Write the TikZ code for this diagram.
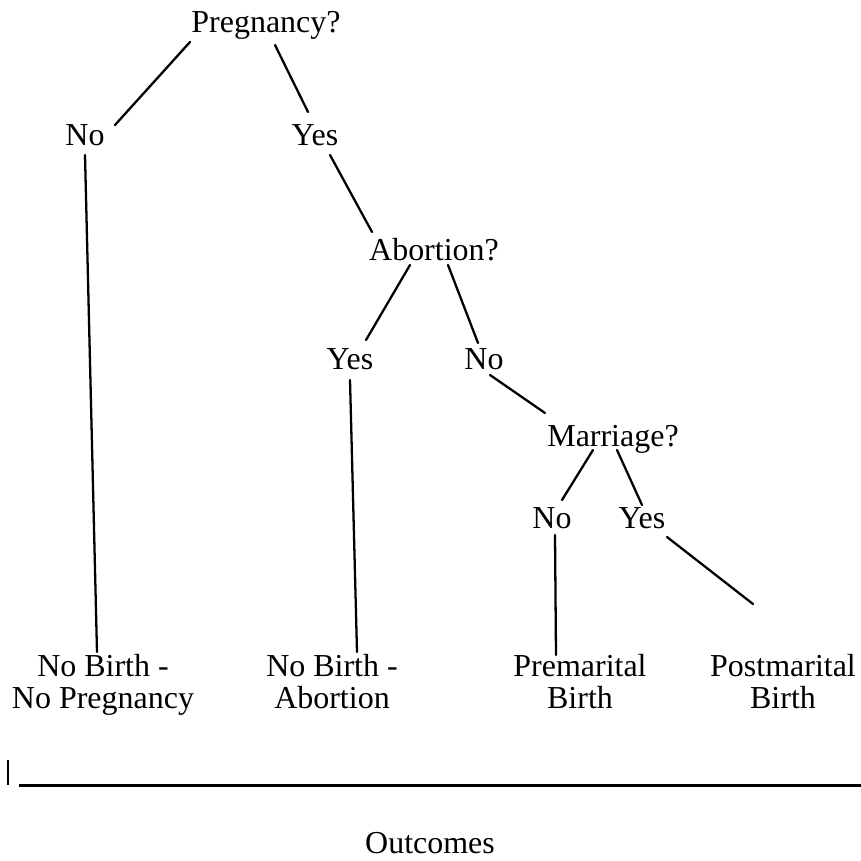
\documentclass[tikz,border=0pt]{standalone}
\usepackage{fontspec}
\setmainfont{Liberation Serif}
\usetikzlibrary{calc,positioning}
\tikzset{
  lbl/.style={inner sep=0pt,anchor=base,font=\fontsize{18.2}{18.5}\selectfont},
  outc/.style={inner sep=0pt,anchor=north,align=center,font=\fontsize{18.2}{18.3}\selectfont},
  edge/.style={line width=1.3pt,draw=black,line cap=round},
  axis/.style={line width=1.7pt,draw=black}
}
\begin{document}
\begin{tikzpicture}[x=0.02cm,y=-0.02cm]
  \useasboundingbox (0,0) rectangle (861,861);
  % questions and answers
  \node[lbl] (preg) at (266,33) {Pregnancy?};
  \node[lbl] (pno) at (85,146) {No};
  \node[lbl] (pyes) at (315,146) {Yes};
  \node[lbl] (abor) at (434,260) {Abortion?};
  \node[lbl] (ayes) at (350,369) {Yes};
  \node[lbl] (ano) at (484,369) {No};
  \node[lbl] (marr) at (613,446) {Marriage?};
  \node[lbl] (mno) at (552,528) {No};
  \node[lbl] (myes) at (642,528) {Yes};
  % outcomes
  \node[outc] (nbnp) at (103,654) {No Birth -\\No Pregnancy};
  \node[outc] (nbab) at (332,654) {No Birth -\\Abortion};
  \node[outc] (pre) at (580,654) {Premarital\\Birth};
  \node[outc] (post) at (783,654) {Postmarital\\Birth};
  % branches
  \draw[edge] ($(preg.base)+(-76,9)$) -- ($(pno.base)+(30,-21)$);
  \draw[edge] ($(preg.base)+(9,12)$) -- ($(pyes.base)+(-7,-34)$);
  \draw[edge] ($(pno.base)+(0,9)$) -- ($(nbnp.north)+(-6,-2)$);
  \draw[edge] ($(pyes.base)+(15,9)$) -- ($(abor.base)+(-62,-28)$);
  \draw[edge] ($(abor.base)+(-24,5)$) -- ($(ayes.base)+(16,-29)$);
  \draw[edge] ($(abor.base)+(14,5)$) -- ($(ano.base)+(-6,-26)$);
  \draw[edge] ($(ayes.base)+(0,11)$) -- ($(nbab.north)+(25,-2)$);
  \draw[edge] ($(ano.base)+(6,6)$) -- ($(marr.base)+(-68,-33)$);
  \draw[edge] ($(marr.base)+(-20,4)$) -- ($(mno.base)+(10,-28)$);
  \draw[edge] ($(marr.base)+(4,4)$) -- ($(myes.base)+(0,-23)$);
  \draw[edge] ($(mno.base)+(3,7)$) -- ($(pre.north)+(-24,1)$);
  \draw[edge] ($(myes.base)+(25,9)$) -- ($(post.north)+(-30,-50)$);
  % axis
  \coordinate (ax0) at (19,785);
  \coordinate (ax1) at (861,785);
  \coordinate (tk) at (8,760);
  \draw[axis] (ax0) -- (ax1);
  \draw[axis] (tk) -- (tk |- ax0);
  \node[lbl] (outl) at (430,853) {Outcomes};
\end{tikzpicture}
\end{document}
